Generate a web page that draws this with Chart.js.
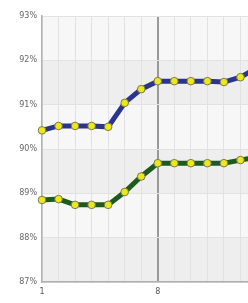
<!DOCTYPE html>
<html><head><meta charset="utf-8">
<script src="https://cdn.jsdelivr.net/npm/chart.js@4/dist/chart.umd.min.js"></script>
<style>
html,body{margin:0;padding:0;background:#fff;overflow:hidden;width:248px;height:303px}
#wrap{width:262px;height:303px}
</style></head><body>
<div id="wrap"><canvas id="c" width="262" height="303"></canvas></div>
<script>
const categories = ['1','2','3','4','5','6','7','8','9','10','11','12','13','14'];
const seriesTop = [90.42,90.52,90.52,90.52,90.50,91.04,91.35,91.53,91.53,91.53,91.53,91.51,91.62,91.83];
const seriesBottom = [88.85,88.87,88.74,88.74,88.74,89.03,89.38,89.68,89.68,89.68,89.68,89.68,89.75,89.82];
const yTicks = [87,88,89,90,91,92,93];

const bands = {
  id:'bands',
  beforeDraw(chart){
    const {ctx, chartArea:a, scales:{y}} = chart;
    ctx.save();
    ctx.fillStyle = '#f7f7f7';
    ctx.fillRect(a.left, a.top, a.right-a.left, a.bottom-a.top);
    for (let i=0;i<yTicks.length-1;i++){
      if (i%2===0){
        const y1 = y.getPixelForValue(yTicks[i+1]);
        const y0 = y.getPixelForValue(yTicks[i]);
        ctx.fillStyle = '#eeeeee';
        ctx.fillRect(a.left, y1, a.right-a.left, y0-y1);
      }
    }
    ctx.restore();
  }
};

new Chart(document.getElementById('c'), {
  type:'line',
  data:{
    labels:categories,
    datasets:[
      {data:seriesTop, borderColor:'#2b3590', borderWidth:5, pointBackgroundColor:'#ece81a', pointBorderColor:'#7a7a50', pointBorderWidth:1, pointRadius:3.8, tension:0},
      {data:seriesBottom, borderColor:'#1d5a1d', borderWidth:5, pointBackgroundColor:'#ece81a', pointBorderColor:'#7a7a50', pointBorderWidth:1, pointRadius:3.8, tension:0}
    ]
  },
  options:{
    responsive:false, animation:false,
    layout:{padding:{top:16,right:0,bottom:0,left:0}},
    plugins:{legend:{display:false}, tooltip:{enabled:false}},
    scales:{
      x:{
        offset:false,
        grid:{color:(c)=> c.index===7 ? '#999999' : '#e2e2e2', lineWidth:(c)=> c.index===7 ? 2 : 1, drawTicks:false},
        border:{color:'#b0b0b0', width:1.5},
        ticks:{autoSkip:false, maxRotation:0, padding:5, color:'#555', font:{family:'DejaVu Sans', size:8},
          callback:function(v,i){ return i%7===0 ? this.getLabelForValue(v) : ''; }},
        afterFit(s){ s.height = 21; }
      },
      y:{
        min:87, max:93,
        grid:{color:'#e2e2e2', lineWidth:1, drawTicks:false},
        border:{color:'#b0b0b0', width:1.5},
        ticks:{stepSize:1, padding:5, color:'#666', font:{family:'DejaVu Sans', size:8}, callback:(v)=> v+'%'},
        afterFit(s){ s.width = 42; }
      }
    }
  },
  plugins:[bands]
});
</script>
</body></html>
